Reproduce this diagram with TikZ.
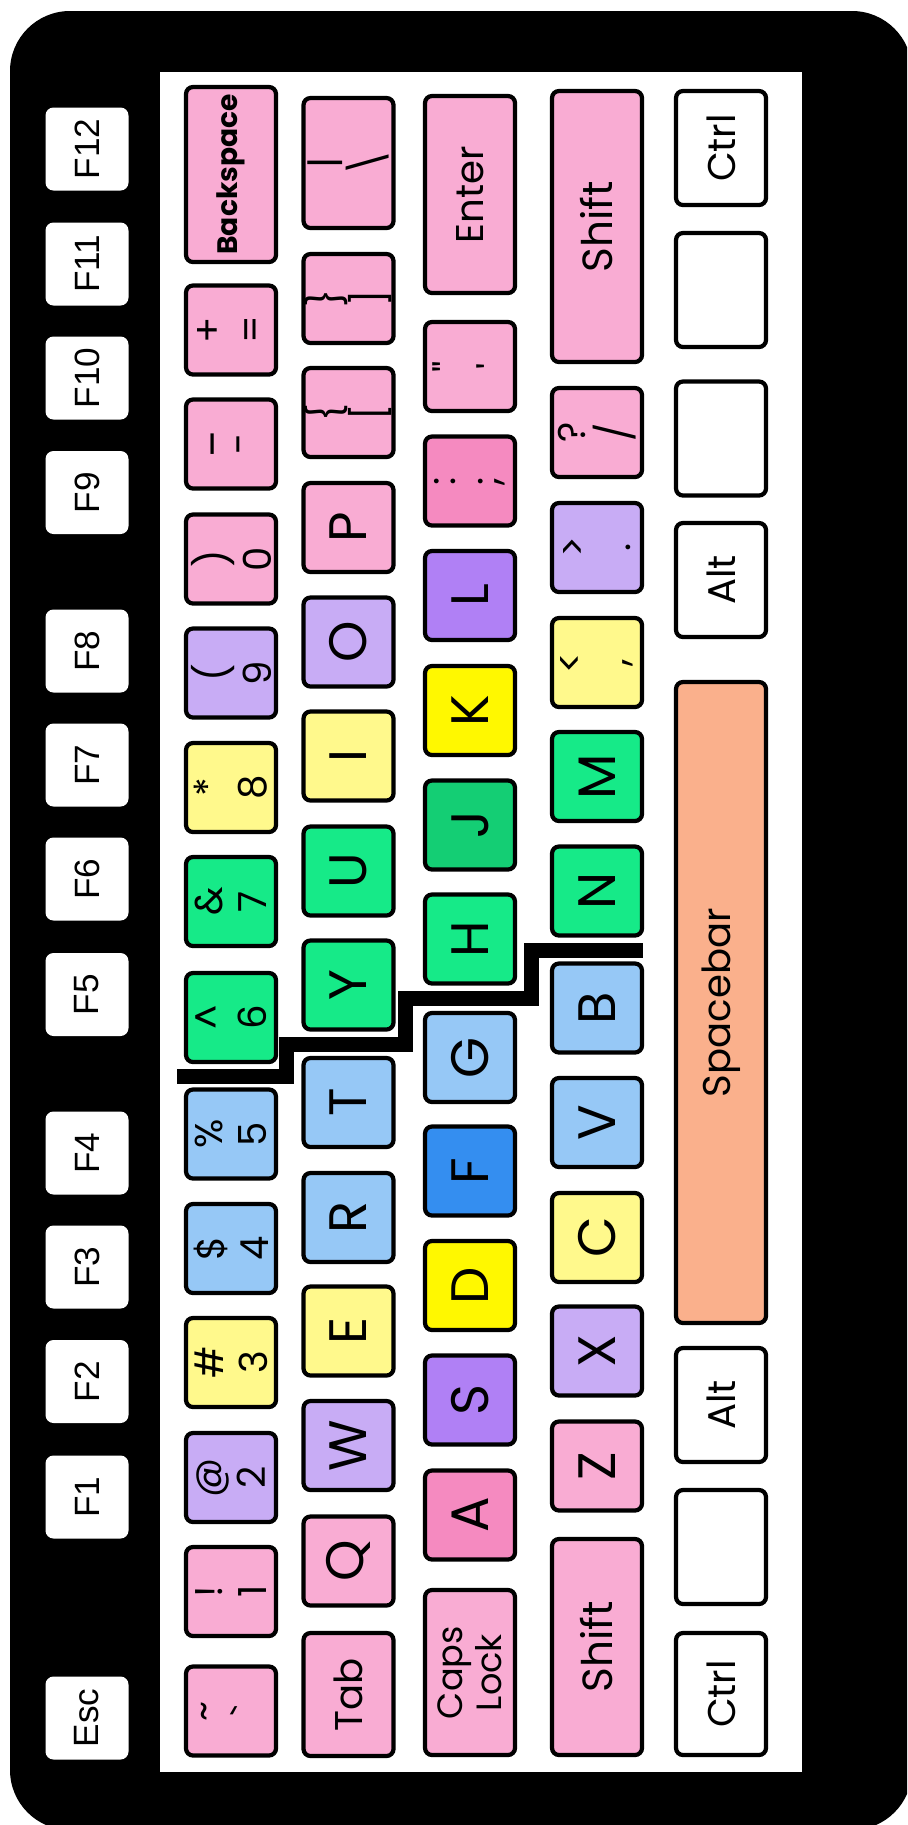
\documentclass[tikz,border=0pt]{standalone}
\usepackage{fontspec}
\setmainfont{Poppins}
\newfontfamily\fkeyfont{Liberation Sans}
\definecolor{keypink}{RGB}{249,172,211}
\definecolor{keyrose}{RGB}{245,138,192}
\definecolor{keylilac}{RGB}{200,172,245}
\definecolor{keyviolet}{RGB}{176,128,245}
\definecolor{keylemon}{RGB}{255,249,140}
\definecolor{keyyellow}{RGB}{255,248,0}
\definecolor{keysky}{RGB}{150,200,246}
\definecolor{keyblue}{RGB}{52,142,240}
\definecolor{keygreen}{RGB}{22,234,136}
\definecolor{keyjade}{RGB}{20,206,116}
\definecolor{keypeach}{RGB}{250,176,140}
\tikzset{
  fkey/.style  ={fill=white, rounded corners=0.8mm, minimum width=8.3mm, minimum height=8.3mm, inner sep=0pt, rotate=90, font=\fkeyfont\fontsize{10}{10}\selectfont},
  kbase/.style ={draw=black, line width=1.2pt, rounded corners=0.7mm, minimum width=8.9mm, minimum height=9mm, inner sep=0pt, rotate=90, align=center},
  klet/.style  ={kbase, font=\fontsize{15}{15}\selectfont},
  kdual/.style ={kbase, font=\fontsize{11}{12.5}\selectfont},
  kword/.style ={kbase, font=\fontsize{11}{11}\selectfont},
  kblank/.style={kbase, fill=white, minimum width=11.4mm},
  zig/.style   ={draw=black, line width=1.5mm},
}
\begin{document}
\begin{tikzpicture}[x=0.1mm,y=-0.1mm]
  \useasboundingbox (0,0) rectangle (907,1825);
  \fill[white] (0,0) rectangle (907,1825);
  \begin{scope}
    \clip (0,0) rectangle (907,1825);
    \fill[black, rounded corners=6mm] (10,11) rectangle (912,1830);
  \end{scope}
  \fill[white] (160,72) rectangle (802,1772);
  % function keys
  \node[fkey] (fesc) at (87,1718) {Esc};
  \node[fkey] (f1) at (87,1497) {F1};
  \node[fkey] (f2) at (87,1381.5) {F2};
  \node[fkey] (f3) at (87,1267) {F3};
  \node[fkey] (f4) at (87,1153) {F4};
  \node[fkey] (f5) at (87,994.5) {F5};
  \node[fkey] (f6) at (87,879) {F6};
  \node[fkey] (f7) at (87,765) {F7};
  \node[fkey] (f8) at (87,651) {F8};
  \node[fkey] (f9) at (87,492.5) {F9};
  \node[fkey] (f10) at (87,378) {F10};
  \node[fkey] (f11) at (87,264) {F11};
  \node[fkey] (f12) at (87,149) {F12};
  % number row
  \node[kdual, fill=keypink] (kgrave) at (231,1711) {\textasciitilde\\\textasciigrave};
  \node[kdual, fill=keypink] (k1) at (231,1591.5) {!\\1};
  \node[kdual, fill=keylilac] (k2) at (231,1477.5) {@\\2};
  \node[kdual, fill=keylemon] (k3) at (231,1362.5) {\#\\3};
  \node[kdual, fill=keysky] (k4) at (231,1248.5) {\$\\4};
  \node[kdual, fill=keysky] (k5) at (231,1134) {\%\\5};
  \node[kdual, fill=keygreen] (k6) at (231,1017.5) {\textasciicircum\\6};
  \node[kdual, fill=keygreen] (k7) at (231,901.5) {\&\\7};
  \node[kdual, fill=keylemon] (k8) at (231,787.5) {*\\8};
  \node[kdual, fill=keylilac] (k9) at (231,673) {(\\9};
  \node[kdual, fill=keypink] (k0) at (231,559) {)\\0};
  \node[kdual, fill=keypink] (kminus) at (231,444) {\_\\-};
  \node[kdual, fill=keypink] (kequal) at (231,330) {+\\=};
  \node[kbase, fill=keypink, minimum width=17.5mm, font=\bfseries\fontsize{8}{8}\selectfont] (kback) at (231,174.5) {Backspace};
  % top letter row
  \node[kword, fill=keypink, minimum width=12.3mm] (ktab) at (348.5,1694.5) {Tab};
  \node[klet, fill=keypink] (kq) at (348.5,1561) {Q};
  \node[klet, fill=keylilac] (kw) at (348.5,1445.5) {W};
  \node[klet, fill=keylemon] (ke) at (348.5,1331) {E};
  \node[klet, fill=keysky] (kr) at (348.5,1217.5) {R};
  \node[klet, fill=keysky] (kt) at (348.5,1102.5) {T};
  \node[klet, fill=keygreen] (ky) at (348.5,985) {Y};
  \node[klet, fill=keygreen] (ku) at (348.5,871) {U};
  \node[klet, fill=keylemon] (ki) at (348.5,756) {I};
  \node[klet, fill=keylilac] (ko) at (348.5,642) {O};
  \node[klet, fill=keypink] (kp) at (348.5,527.5) {P};
  \node[kdual, fill=keypink] (klbrack) at (348.5,412.5) {\{\\{[}};
  \node[kdual, fill=keypink] (krbrack) at (348.5,298.5) {\}\\{]}};
  \node[kdual, fill=keypink, minimum width=13mm] (kbslash) at (348.5,163) {\textbar\\\textbackslash};
  % home row
  \node[kbase, fill=keypink, minimum width=16.5mm, font=\fontsize{10}{9.5}\selectfont] (kcaps) at (470,1672.5) {Caps\\Lock};
  \node[klet, fill=keyrose] (ka) at (470,1515) {A};
  \node[klet, fill=keyviolet] (ks) at (470,1400) {S};
  \node[klet, fill=keyyellow] (kd) at (470,1285.5) {D};
  \node[klet, fill=keyblue] (kf) at (470,1171) {F};
  \node[klet, fill=keysky] (kg) at (470,1057.5) {G};
  \node[klet, fill=keygreen] (kh) at (470,939) {H};
  \node[klet, fill=keyjade] (kj) at (470,825) {J};
  \node[klet, fill=keyyellow] (kk) at (470,710.5) {K};
  \node[klet, fill=keyviolet] (kl) at (470,595.5) {L};
  \node[kdual, fill=keyrose] (ksemi) at (470,481) {:\\;};
  \node[kdual, fill=keypink] (kquote) at (470,366.5) {\textquotedbl\\\textquotesingle};
  \node[kword, fill=keypink, minimum width=19.7mm] (kenter) at (470,194.5) {Enter};
  % bottom letter row
  \node[kbase, fill=keypink, minimum width=21.6mm, font=\fontsize{12}{12}\selectfont] (kshiftl) at (597,1647) {Shift};
  \node[klet, fill=keypink] (kz) at (597,1466) {Z};
  \node[klet, fill=keylilac] (kx) at (597,1351) {X};
  \node[klet, fill=keylemon] (kc) at (597,1237.5) {C};
  \node[klet, fill=keysky] (kv) at (597,1122.5) {V};
  \node[klet, fill=keysky] (kb) at (597,1008) {B};
  \node[klet, fill=keygreen] (kn) at (597,891) {N};
  \node[klet, fill=keygreen] (km) at (597,776.5) {M};
  \node[kdual, fill=keylemon] (kcomma) at (597,662.5) {\textless\\,};
  \node[kdual, fill=keylilac] (kperiod) at (597,547.5) {\textgreater\\.};
  \node[kdual, fill=keypink] (kslash) at (597,432.5) {?\\/};
  \node[kbase, fill=keypink, minimum width=27.1mm, font=\fontsize{12}{12}\selectfont] (kshiftr) at (597,226.5) {Shift};
  % space row
  \node[kword, fill=white, minimum width=12.2mm] (kctrll) at (721,1694) {Ctrl};
  \node[kblank] (kwinl) at (721,1547) {};
  \node[kword, fill=white, minimum width=11.4mm] (kaltl) at (721,1405) {Alt};
  \node[kword, fill=keypeach, minimum width=64.1mm] (kspace) at (721,1002.5) {Spacebar};
  \node[kword, fill=white, minimum width=11.4mm] (kaltr) at (721,580) {Alt};
  \node[kblank] (kwinr) at (721,438.5) {};
  \node[kblank] (kmenu) at (721,290) {};
  \node[kword, fill=white, minimum width=11.4mm] (kctrlr) at (721,148) {Ctrl};
  % split between the hands
  \draw[zig] (177,1076) -- (286,1076) -- (286,1044) -- (405,1044) -- (405,998) -- (531,998) -- (531,950) -- (643,950);
\end{tikzpicture}
\end{document}
